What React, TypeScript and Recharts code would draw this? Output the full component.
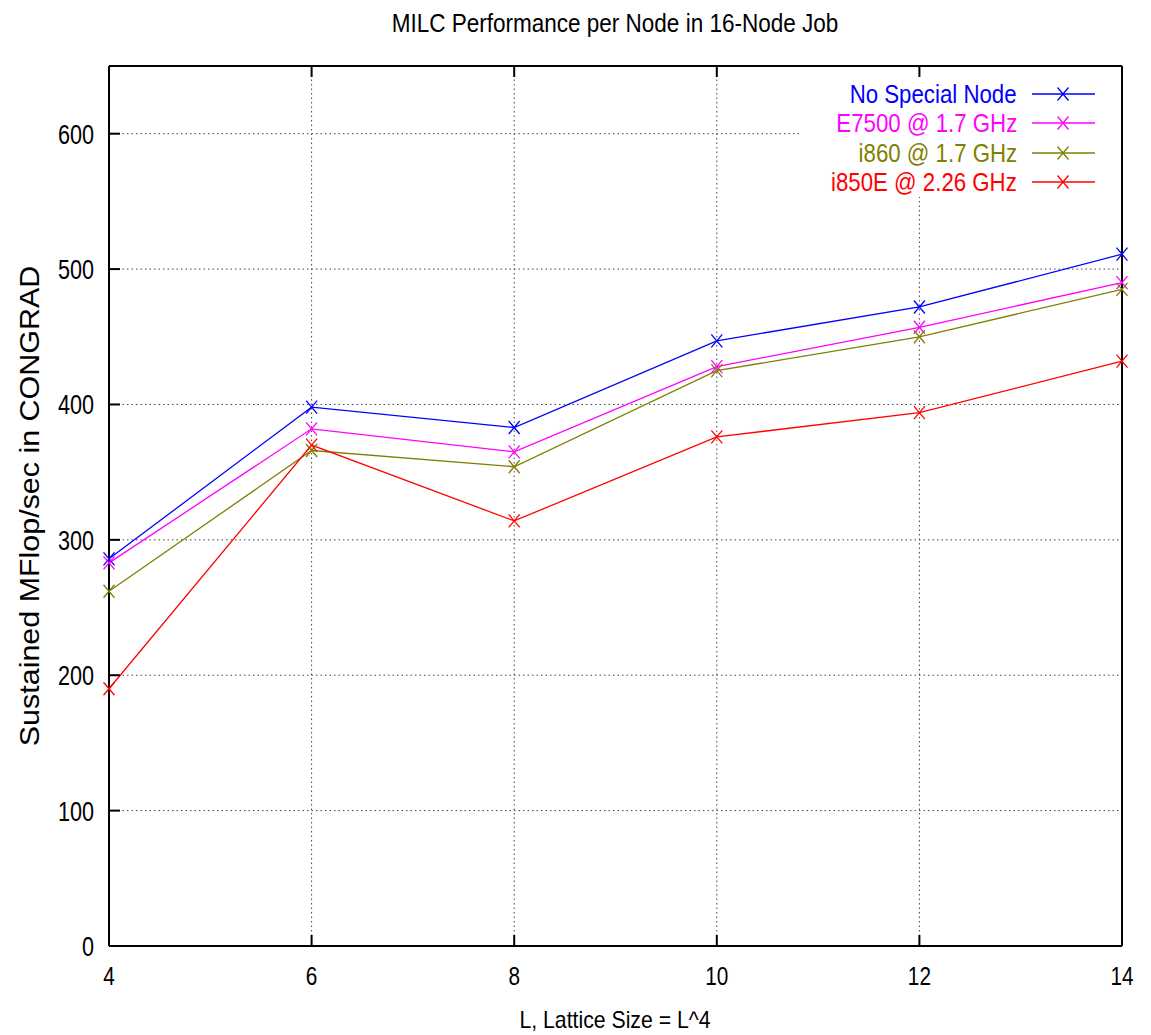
import React from 'react';
import { LineChart, Line, XAxis, YAxis, CartesianGrid, Legend } from 'recharts';

const latticeSizes = [4, 6, 8, 10, 12, 14];
const noSpecialNode = [286, 398, 383, 447, 472, 511];
const e7500 = [283, 382, 365, 428, 457, 490];
const i860 = [262, 366, 354, 425, 450, 485];
const i850e = [190, 370, 314, 376, 394, 432];

const xTicks = [4, 6, 8, 10, 12, 14];
const yTicks = [0, 100, 200, 300, 400, 500, 600];

const seriesDefs = [
  { key: 'noSpecial', name: 'No Special Node', color: '#0000ff', values: noSpecialNode },
  { key: 'e7500', name: 'E7500 @ 1.7 GHz', color: '#ff00ff', values: e7500 },
  { key: 'i860', name: 'i860 @ 1.7 GHz', color: '#808000', values: i860 },
  { key: 'i850e', name: 'i850E @ 2.26 GHz', color: '#ff0000', values: i850e },
];

const data = latticeSizes.map((L, i) => {
  const row: Record<string, number> = { L };
  seriesDefs.forEach((s) => {
    row[s.key] = s.values[i];
  });
  return row;
});

const SANS = '"Liberation Sans", Arial, sans-serif';
const TICK = 11;

const Cross = (props: any) => {
  const { cx, cy, stroke } = props;
  if (cx == null || cy == null) return null;
  return (
    <g>
      <line x1={cx - 5.5} y1={cy - 6.5} x2={cx + 5.5} y2={cy + 6.5} stroke={stroke} strokeWidth={1.3} />
      <line x1={cx - 5.5} y1={cy + 6.5} x2={cx + 5.5} y2={cy - 6.5} stroke={stroke} strokeWidth={1.3} />
    </g>
  );
};

const BottomTick = (props: any) => {
  const { x, y, payload } = props;
  return (
    <g>
      <line x1={x} y1={y} x2={x} y2={y - TICK} stroke="#000" strokeWidth={2} />
      <text
        transform={`translate(${x},${y + 39}) scale(0.8,1)`}
        textAnchor="middle"
        fontFamily={SANS}
        fontSize={26}
        fill="#000"
      >
        {payload.value}
      </text>
    </g>
  );
};

const TopTick = (props: any) => {
  const { x, y } = props;
  return <line x1={x} y1={y} x2={x} y2={y + TICK} stroke="#000" strokeWidth={2} />;
};

const LeftTick = (props: any) => {
  const { x, y, payload } = props;
  return (
    <g>
      <line x1={x} y1={y} x2={x + TICK} y2={y} stroke="#000" strokeWidth={2} />
      <text
        transform={`translate(${x - 15},${y + 10}) scale(0.8,1)`}
        textAnchor="end"
        fontFamily={SANS}
        fontSize={27}
        fill="#000"
      >
        {payload.value}
      </text>
    </g>
  );
};

const RightTick = (props: any) => {
  const { x, y } = props;
  return <line x1={x} y1={y} x2={x - TICK} y2={y} stroke="#000" strokeWidth={2} />;
};

const LegendContent = () => (
  <div style={{ position: 'relative', width: 321, height: 120, background: '#fff' }}>
    {seriesDefs.map((s, i) => {
      const cy = 17 + i * 29.3;
      return (
        <div key={s.key}>
          <div
            style={{
              position: 'absolute',
              right: 321 - 217,
              top: cy - 16,
              height: 32,
              lineHeight: '32px',
              fontFamily: SANS,
              fontSize: 25,
              color: s.color,
              whiteSpace: 'nowrap',
              transform: 'scaleX(0.89)',
              transformOrigin: 'right center',
            }}
          >
            {s.name}
          </div>
          <svg style={{ position: 'absolute', left: 232, top: cy - 8 }} width={64} height={16}>
            <line x1={0} y1={8} x2={63} y2={8} stroke={s.color} strokeWidth={1.3} />
            <Cross cx={31} cy={8} stroke={s.color} />
          </svg>
        </div>
      );
    })}
  </div>
);

export default function App() {
  return (
    <div style={{ position: 'absolute', left: 0, top: 0, width: 1151, height: 1035, background: '#fff' }}>
      <LineChart
        width={1151}
        height={1035}
        data={data}
        margin={{ top: 65, right: 28, bottom: 88, left: 108 }}
      >
        <CartesianGrid stroke="#444" strokeDasharray="1.5 3" strokeWidth={1} />
        <XAxis
          dataKey="L"
          type="number"
          domain={[4, 14]}
          ticks={xTicks}
          height={1}
          tickSize={0}
          tickMargin={0}
          tickLine={false}
          axisLine={{ stroke: '#000', strokeWidth: 2 }}
          tick={<BottomTick />}
          interval={0}
        />
        <XAxis
          xAxisId="top"
          orientation="top"
          dataKey="L"
          type="number"
          domain={[4, 14]}
          ticks={xTicks}
          height={1}
          tickSize={0}
          tickMargin={0}
          tickLine={false}
          axisLine={{ stroke: '#000', strokeWidth: 2 }}
          tick={<TopTick />}
          interval={0}
        />
        <YAxis
          type="number"
          domain={[0, 650]}
          ticks={yTicks}
          width={1}
          tickSize={0}
          tickMargin={0}
          tickLine={false}
          axisLine={{ stroke: '#000', strokeWidth: 2 }}
          tick={<LeftTick />}
          interval={0}
        />
        <YAxis
          yAxisId="right"
          orientation="right"
          type="number"
          domain={[0, 650]}
          ticks={yTicks}
          width={1}
          tickSize={0}
          tickMargin={0}
          tickLine={false}
          axisLine={{ stroke: '#000', strokeWidth: 2 }}
          tick={<RightTick />}
          interval={0}
        />
        <Legend
          layout="vertical"
          align="center"
          verticalAlign="middle"
          wrapperStyle={{ top: 77, left: 800, width: 321, height: 120 }}
          content={<LegendContent />}
        />
        {seriesDefs.map((s) => (
          <Line
            key={s.key}
            dataKey={s.key}
            name={s.name}
            stroke={s.color}
            strokeWidth={1.3}
            dot={<Cross />}
            activeDot={false}
            isAnimationActive={false}
          />
        ))}
      </LineChart>
      <div
        style={{
          position: 'absolute',
          left: 0,
          width: 1230,
          top: 8,
          textAlign: 'center',
          fontFamily: SANS,
          fontSize: 25,
          lineHeight: '30px',
          color: '#000',
          transform: 'scaleX(0.9)',
          transformOrigin: '615px 0',
        }}
      >
        MILC Performance per Node in 16-Node Job
      </div>
      <div
        style={{
          position: 'absolute',
          left: 0,
          width: 1230,
          top: 1005,
          textAlign: 'center',
          fontFamily: SANS,
          fontSize: 24,
          lineHeight: '30px',
          color: '#000',
          transform: 'scaleX(0.885)',
          transformOrigin: '615px 0',
        }}
      >
        L, Lattice Size = L^4
      </div>
      <div
        style={{
          position: 'absolute',
          left: 30,
          top: 506,
          transform: 'translate(-50%, -50%) rotate(-90deg) scaleX(1.087)',
          fontFamily: SANS,
          fontSize: 28,
          lineHeight: '30px',
          whiteSpace: 'nowrap',
          color: '#000',
        }}
      >
        Sustained MFlop/sec in CONGRAD
      </div>
    </div>
  );
}
